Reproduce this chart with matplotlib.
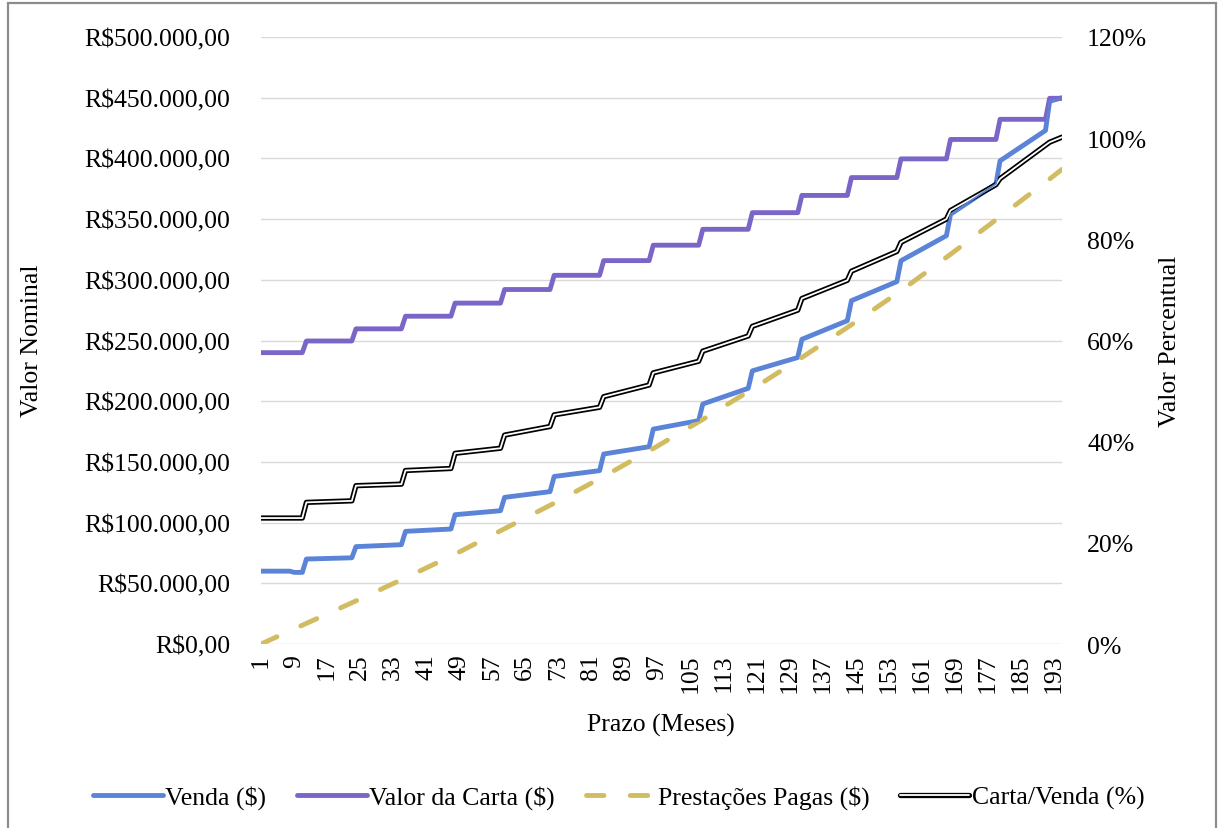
import numpy as np
import matplotlib
matplotlib.use("Agg")
import matplotlib.pyplot as plt
from matplotlib.patches import Rectangle
from matplotlib.ticker import FuncFormatter, MultipleLocator

plt.rcParams['font.family'] = ['Liberation Serif', 'DejaVu Serif']

# Venda ($): break points (month, value) - jumps every 12 months
venda_mes = [1, 8, 9, 11, 12, 23, 24, 35, 36, 47, 48, 59, 60, 71, 72, 83, 84, 95,
             96, 107, 108, 119, 120, 131, 132, 143, 144, 155, 156, 167, 168, 179,
             180, 191, 192, 195]
venda = [60000, 60000, 59000, 59000, 70000, 71000, 80200, 81800, 92800, 94700,
         106500, 109800, 120800, 125500, 138000, 142800, 156500, 162500,
         177000, 184000, 197700, 210600, 225000, 236000, 251000, 266300,
         282800, 298500, 315700, 336300, 354000, 379000, 398000, 423000,
         447000, 450000]

# Valor da Carta ($): value for each yearly step
carta_inicio = [1, 12, 24, 36, 48, 60, 72, 84, 96, 108, 120, 132, 144, 156, 168, 180, 192]
carta_fim = [11, 23, 35, 47, 59, 71, 83, 95, 107, 119, 131, 143, 155, 167, 179, 191, 195]
carta = [240000, 249600, 259600, 270000, 280800, 292000, 303700, 315800, 328500,
         341600, 355300, 369500, 384200, 399600, 415600, 432200, 449500]

# Prestações Pagas ($)
prest_mes = [1, 12, 24, 36, 48, 60, 72, 84, 96, 108, 120, 132, 144, 156, 168, 180, 192, 195]
prest = [0, 17000, 35500, 54500, 74000, 95000, 116000, 138000, 161000, 185000,
         210000, 236000, 263000, 291000, 321000, 352000, 383000, 391000]

# Carta/Venda (%)
ratio_mes = [1, 11, 12, 23, 24, 35, 36, 47, 48, 59, 60, 71, 72, 83, 84, 95, 96, 107,
             108, 119, 120, 131, 132, 143, 144, 155, 156, 167, 168, 179, 180, 191,
             192, 195]
ratio = [24.9, 24.9, 28.0, 28.3, 31.3, 31.6, 34.3, 34.7, 37.7, 38.7, 41.3, 43.0,
         45.3, 46.8, 48.9, 51.2, 53.6, 55.9, 57.9, 60.9, 62.8, 66.0, 68.3, 71.9,
         73.7, 77.6, 79.4, 84.0, 85.7, 90.8, 92.0, 98.6, 99.2, 100.2]

x_ticks = list(range(1, 194, 8))

c_venda = '#5B84D8'
c_carta = '#7B66C8'
c_prest = '#D2BC62'

# step line for the carta value: flat through each year
carta_x = np.column_stack([carta_inicio, carta_fim]).ravel()
carta_y = np.repeat(carta, 2)

fig = plt.figure(figsize=(12.18, 8.29), dpi=100)
ax = fig.add_axes([261 / 1218, 1 - 645 / 829, 801 / 1218, 607 / 829])
ax2 = ax.twinx()

fs = 18.5
lw = 3.5
l_venda, = ax.plot(venda_mes, venda, color=c_venda, lw=lw,
                   solid_joinstyle='round', solid_capstyle='round', zorder=3)
l_carta, = ax.plot(carta_x, carta_y, color=c_carta, lw=lw,
                   solid_joinstyle='round', solid_capstyle='round', zorder=3)
l_prest, = ax.plot(prest_mes, prest, color=c_prest, lw=lw,
                   linestyle=(0, (3.6, 5.4)), dash_capstyle='round', zorder=3)

# double black line on the secondary axis
l_out, = ax2.plot(ratio_mes, ratio, color='black', lw=3.8,
                  solid_joinstyle='round', solid_capstyle='round')
l_in, = ax2.plot(ratio_mes, ratio, color='white', lw=1.3,
                 solid_joinstyle='round', solid_capstyle='round')
# Venda seen through the gap of the double line where they overlap
ax2.plot(venda_mes, venda, color=c_venda, lw=1.3, transform=ax.transData)

ax.set_xlim(1, 195)
ax.set_ylim(0, 500000)
ax2.set_ylim(0, 120)
ax.yaxis.set_major_locator(MultipleLocator(50000))
ax2.yaxis.set_major_locator(MultipleLocator(20))


def reais(v, pos):
    s = f"{v:,.2f}".replace(',', 'X').replace('.', ',').replace('X', '.')
    return 'R$' + s


ax.yaxis.set_major_formatter(FuncFormatter(reais))
ax2.yaxis.set_major_formatter(FuncFormatter(lambda v, p: f"{v:.0f}%"))

ax.set_xticks(x_ticks)
ax.set_xticklabels([str(t) for t in x_ticks], rotation=90, fontsize=fs)
ax.tick_params(axis='x', length=0, pad=7)
ax.tick_params(axis='y', length=0, pad=22, labelsize=fs)
ax2.tick_params(axis='y', length=0, pad=18, labelsize=fs)

ax.grid(axis='y', color='#D9D9D9', lw=1.0)
ax.set_axisbelow(True)
for a in (ax, ax2):
    for sp in a.spines.values():
        sp.set_visible(False)

fig.text(32 / 1218, 1 - 341 / 829, 'Valor Nominal', rotation=90,
         ha='center', va='center', fontsize=fs)
fig.text(1170 / 1218, 1 - 341 / 829, 'Valor Percentual', rotation=90,
         ha='center', va='center', fontsize=fs)
fig.text(661 / 1218, 1 - 725 / 829, 'Prazo (Meses)',
         ha='center', va='center', fontsize=fs)

fig.legend([l_venda, l_carta, l_prest, (l_out, l_in)],
           ['Venda ($)', 'Valor da Carta ($)', 'Prestações Pagas ($)', 'Carta/Venda (%)'],
           loc='center', bbox_to_anchor=(619 / 1218, 1 - 798 / 829), ncol=4,
           frameon=False, handlelength=2.7, handletextpad=0.1,
           columnspacing=1.2, fontsize=fs)

# chart border
fig.patches.append(Rectangle((8 / 1218, -0.05), 1208 / 1218, 1.05 - 4 / 829,
                             transform=fig.transFigure, fill=False,
                             edgecolor='#8C8C8C', lw=1.6))

fig.savefig('out.png', dpi=100)
